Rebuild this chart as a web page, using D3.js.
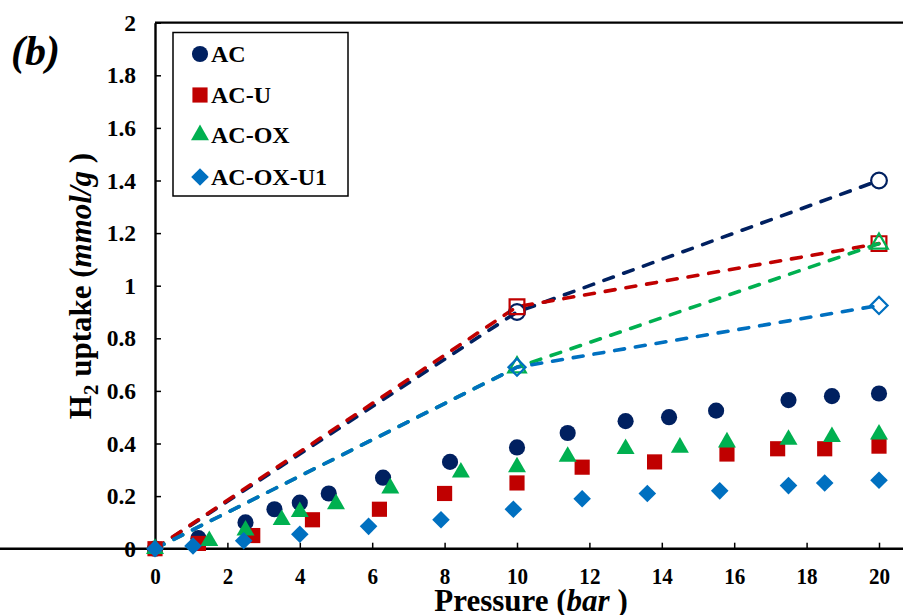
<!DOCTYPE html>
<html>
<head>
<meta charset="utf-8">
<script src="https://cdn.jsdelivr.net/npm/d3@7"></script>
<style>
  body { margin: 0; background: #fff; }
  svg { display: block; font-family: "Liberation Serif", "Times New Roman", serif; }
</style>
</head>
<body>
<div id="chart"></div>
<script>
// series names + colours
var seriesNames = ["AC", "AC-U", "AC-OX", "AC-OX-U1"];
var seriesColors = ["#002060", "#C00000", "#00B050", "#0070C0"];
var seriesShapes = ["circle", "square", "triangle", "diamond"];

// measured points (pressure in bar, uptake in mmol/g)
var pAC = [0, 1.2, 2.5, 3.3, 4.0, 4.8, 6.3, 8.15, 10, 11.4, 13.0, 14.2, 15.5, 17.5, 18.7, 20];
var uAC = [0, 0.04, 0.10, 0.15, 0.175, 0.21, 0.27, 0.33, 0.385, 0.44, 0.485, 0.50, 0.525, 0.565, 0.58, 0.59];

var pACU = [0, 1.2, 2.7, 4.35, 6.2, 8.0, 10, 11.8, 13.8, 15.8, 17.2, 18.5, 20];
var uACU = [0, 0.02, 0.05, 0.11, 0.15, 0.21, 0.25, 0.31, 0.33, 0.36, 0.38, 0.38, 0.39];

var pACOX = [0, 1.5, 2.5, 3.5, 4.0, 5.0, 6.5, 8.45, 10, 11.4, 13.0, 14.5, 15.8, 17.5, 18.7, 20];
var uACOX = [0, 0.03, 0.07, 0.11, 0.14, 0.17, 0.23, 0.29, 0.31, 0.35, 0.38, 0.385, 0.405, 0.415, 0.425, 0.435];

var pACOXU1 = [0, 1.05, 2.45, 4.0, 5.9, 7.9, 9.9, 11.8, 13.6, 15.6, 17.5, 18.5, 20];
var uACOXU1 = [0, 0.01, 0.03, 0.055, 0.085, 0.11, 0.15, 0.19, 0.21, 0.22, 0.24, 0.25, 0.26];

// dashed lines with open markers at 10 and 20 bar
var linePressure = [0, 10, 20];
var lineAC = [0, 0.90, 1.40];
var lineACU = [0, 0.92, 1.16];
var lineACOX = [0, 0.69, 1.16];
var lineACOXU1 = [0, 0.69, 0.925];

var xTicks = [0, 2, 4, 6, 8, 10, 12, 14, 16, 18, 20];
var yTicks = [0, 0.2, 0.4, 0.6, 0.8, 1, 1.2, 1.4, 1.6, 1.8, 2];

var svgWidth = 903, svgHeight = 615;

var svg = d3.select("#chart").append("svg")
  .attr("width", svgWidth)
  .attr("height", svgHeight);

var x = d3.scaleLinear().domain([0, 21]).range([155, 155 + 21 * 36.2]);
var y = d3.scaleLinear().domain([0, 2]).range([548.7, 22.7]);

// top border of plot area
svg.append("line")
  .attr("x1", x(0)).attr("x2", svgWidth + 5)
  .attr("y1", y(2)).attr("y2", y(2))
  .attr("stroke", "#000").attr("stroke-width", 2.2);

// axes
var xAxis = d3.axisBottom(x).tickValues(xTicks).tickSizeInner(-6).tickSizeOuter(0).tickPadding(18)
  .tickFormat(d3.format("d"));
var yAxis = d3.axisLeft(y).tickValues(yTicks).tickSizeInner(-6).tickSizeOuter(0).tickPadding(19)
  .tickFormat(d => d === 0 ? "0" : d === 1 ? "1" : d === 2 ? "2" : d3.format(".1f")(d));

var gx = svg.append("g").attr("transform", `translate(0,${y(0)})`).call(xAxis);
var gy = svg.append("g").attr("transform", `translate(${x(0)},0)`).call(yAxis);

[gx, gy].forEach(g => {
  g.select(".domain").attr("stroke", "#000").attr("stroke-width", 2.4);
  g.selectAll(".tick line").attr("stroke", "#000").attr("stroke-width", 1.5);
  g.selectAll(".tick text")
    .attr("fill", "#000")
    .style("font-family", "'Liberation Serif', serif")
    .style("font-weight", "bold");
});
gx.selectAll(".tick text").style("font-size", "24px").attr("transform", "scale(0.88,1)");
gy.selectAll(".tick text").style("font-size", "23.5px");
// extend x axis to the right edge
gx.select(".domain").attr("d", `M0,0H${svgWidth + 5}`);

// symbol helper (diamond = square turned 45 degrees)
function symbolPath(shape, size) {
  var t = {circle: d3.symbolCircle, square: d3.symbolSquare, triangle: d3.symbolTriangle, diamond: d3.symbolSquare}[shape];
  return d3.symbol().type(t).size(size)();
}
var symbolSize = {circle: 205, square: 230, triangle: 140, diamond: 155};
function rot(shape) { return shape === "diamond" ? " rotate(45)" : ""; }

// dashed lines
var lineSets = [lineAC, lineACU, lineACOX, lineACOXU1];
var lineGen = d3.line().x(d => x(d[0])).y(d => y(d[1]));

lineSets.forEach((vals, i) => {
  var pts = linePressure.map((p, j) => [p, vals[j]]);
  svg.append("path")
    .datum(pts)
    .attr("d", lineGen)
    .attr("fill", "none")
    .attr("stroke", seriesColors[i])
    .attr("stroke-width", 3.6)
    .attr("stroke-linecap", "round")
    .attr("stroke-dasharray", "10,11");
});

// open markers at 10 and 20 bar
lineSets.forEach((vals, i) => {
  var sh = seriesShapes[i];
  svg.selectAll(null)
    .data(linePressure.map((p, j) => [p, vals[j]]).filter(d => d[0] > 0))
    .enter().append("path")
    .attr("d", symbolPath(sh, symbolSize[sh] * 0.95))
    .attr("transform", d => `translate(${x(d[0])},${y(d[1])})` + rot(sh))
    .attr("fill", "none")
    .attr("stroke", seriesColors[i])
    .attr("stroke-width", 2.2);
});

// filled data markers
var pointSets = [[pAC, uAC], [pACU, uACU], [pACOX, uACOX], [pACOXU1, uACOXU1]];
pointSets.forEach((set, i) => {
  var sh = seriesShapes[i];
  var pts = set[0].map((p, j) => [p, set[1][j]]);
  svg.selectAll(null)
    .data(pts)
    .enter().append("path")
    .attr("d", symbolPath(sh, symbolSize[sh]))
    .attr("transform", d => `translate(${x(d[0])},${y(d[1])})` + rot(sh))
    .attr("fill", seriesColors[i]);
});

// legend
var legend = svg.append("g");
legend.append("rect")
  .attr("x", 173).attr("y", 32.5)
  .attr("width", 175).attr("height", 163.5)
  .attr("fill", "#fff").attr("stroke", "#000").attr("stroke-width", 1.5);

var legendRows = [54, 95, 135, 177];
seriesNames.forEach((name, i) => {
  var sh = seriesShapes[i];
  legend.append("path")
    .attr("d", symbolPath(sh, symbolSize[sh]))
    .attr("transform", `translate(200,${legendRows[i]})` + rot(sh))
    .attr("fill", seriesColors[i]);
  legend.append("text")
    .attr("x", 211).attr("y", legendRows[i] + 8)
    .style("font-weight", "bold")
    .style("font-size", "24px")
    .text(name);
});

// panel label
svg.append("text")
  .attr("x", 11).attr("y", 65)
  .style("font-weight", "bold")
  .style("font-style", "italic")
  .style("font-size", "42px")
  .text("(b)");

// axis titles
var xt = svg.append("text")
  .attr("x", 531).attr("y", 611)
  .attr("text-anchor", "middle")
  .style("font-weight", "bold")
  .style("font-size", "31px");
xt.append("tspan").text("Pressure (");
xt.append("tspan").style("font-style", "italic").text("bar");
xt.append("tspan").text(" )");

var yt = svg.append("text")
  .attr("transform", "translate(91,286) rotate(-90)")
  .attr("text-anchor", "middle")
  .style("font-weight", "bold")
  .style("font-size", "31px");
yt.append("tspan").text("H");
yt.append("tspan").attr("dy", 7).style("font-size", "21px").text("2");
yt.append("tspan").attr("dy", -7).text(" uptake (");
yt.append("tspan").style("font-style", "italic").text("mmol/g");
yt.append("tspan").text(" )");
</script>
</body>
</html>
